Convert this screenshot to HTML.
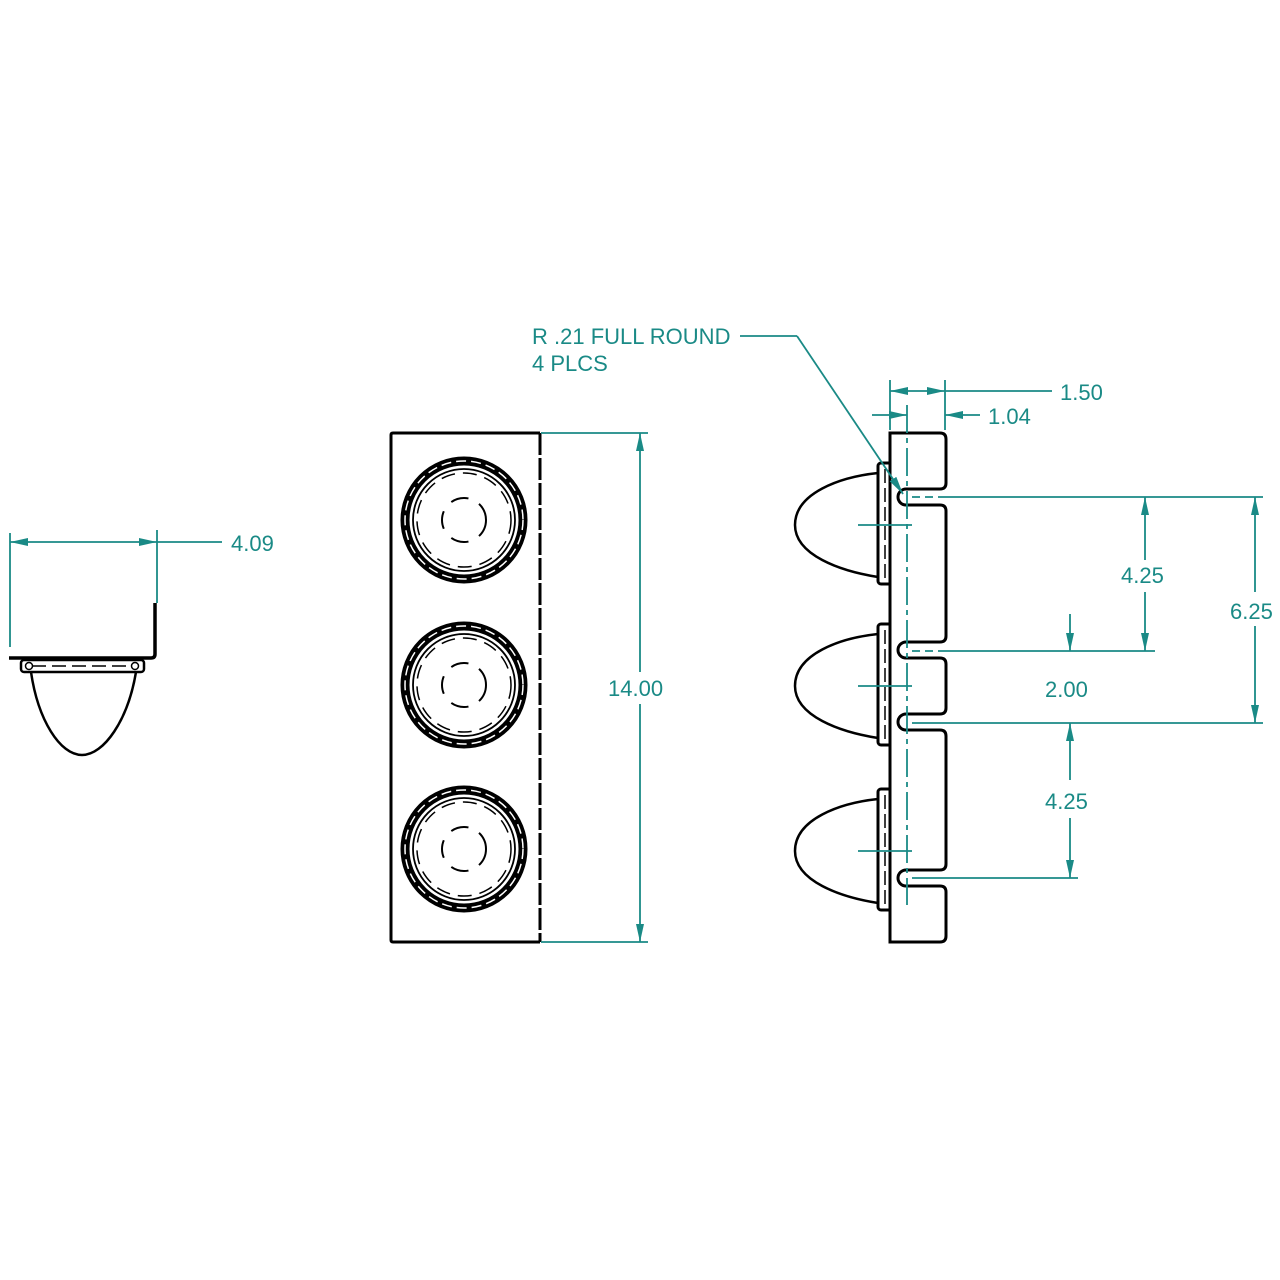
<!DOCTYPE html>
<html><head><meta charset="utf-8"><style>
html,body{margin:0;padding:0;background:#fff;}
svg{display:block;}
text{font-family:"Liberation Sans",sans-serif;fill:#1a8a86;font-size:22px;}
</style></head><body>
<svg width="1280" height="1280" viewBox="0 0 1280 1280" xmlns="http://www.w3.org/2000/svg">
<defs>
<marker id="a" viewBox="0 0 18 8" refX="18" refY="4" markerWidth="18" markerHeight="8" markerUnits="userSpaceOnUse" orient="auto-start-reverse"><path d="M0,0 L18,4 L0,8 z" fill="#1a8a86"/></marker>
<g id="lens">
<circle r="59" fill="none" stroke="#000" stroke-width="9"/>
<circle r="59" fill="none" stroke="#fff" stroke-width="1.5" stroke-dasharray="10 5"/>
<circle r="51" fill="none" stroke="#000" stroke-width="1.8"/>
<circle r="47" fill="none" stroke="#000" stroke-width="1.5" stroke-dasharray="14 8"/>
<circle r="22" fill="none" stroke="#000" stroke-width="2" stroke-dasharray="18 12"/>
</g>
<g id="side">
<path d="M0,-62 H-9 a3,3 0 0 0 -3,3 V56 a3,3 0 0 0 3,3 H0" fill="none" stroke="#000" stroke-width="3"/>
<line x1="-5" y1="-56" x2="-5" y2="56" stroke="#000" stroke-width="1.5" stroke-dasharray="14 5"/>
<path d="M-12,-52 C-50,-48 -95,-32 -95,0 C-95,30 -50,46 -12,52" fill="none" stroke="#000" stroke-width="2.5"/>
<line x1="-32" y1="0" x2="22" y2="0" stroke="#1a8a86" stroke-width="1.8"/>
</g>
</defs>

<!-- Left view -->
<g stroke="#1a8a86" stroke-width="1.8" fill="none">
<line x1="10" y1="533" x2="10" y2="647"/>
<line x1="157" y1="530" x2="157" y2="603"/>
<line x1="10" y1="542" x2="157" y2="542" marker-start="url(#a)" marker-end="url(#a)"/>
<line x1="157" y1="542" x2="222" y2="542"/>
</g>
<text x="231" y="551">4.09</text>
<path d="M155,603 V654 q0,4 -4,4 H9" fill="none" stroke="#000" stroke-width="3.5"/>
<rect x="21" y="660" width="123" height="12" rx="3" fill="none" stroke="#000" stroke-width="2.5"/>
<line x1="32" y1="666" x2="132" y2="666" stroke="#000" stroke-width="1.5" stroke-dasharray="14 6"/>
<circle cx="29" cy="666" r="3.5" fill="none" stroke="#000" stroke-width="1.5"/>
<circle cx="135" cy="666" r="3.5" fill="none" stroke="#000" stroke-width="1.5"/>
<path d="M31,672 C38,720 60,755 82,755 C104,755 128,720 136,672" fill="none" stroke="#000" stroke-width="2.5"/>

<!-- Front view -->
<path d="M540,433 H393 q-2,0 -2,2 V940 q0,2 2,2 H540" fill="none" stroke="#000" stroke-width="3"/>
<line x1="540" y1="433" x2="540" y2="942" stroke="#000" stroke-width="3" stroke-dasharray="22 3"/>
<use href="#lens" x="464" y="520"/>
<use href="#lens" x="464" y="685"/>
<use href="#lens" x="464" y="849"/>
<g stroke="#1a8a86" stroke-width="1.8" fill="none">
<line x1="541" y1="433" x2="648" y2="433"/>
<line x1="541" y1="942" x2="648" y2="942"/>
<line x1="640" y1="433" x2="640" y2="672" marker-start="url(#a)"/>
<line x1="640" y1="704" x2="640" y2="942" marker-end="url(#a)"/>
</g>
<text x="608" y="696">14.00</text>

<!-- Side view -->
<path d="M890,433 H940 q6,0 6,6 V483 q0,6 -6,6 H906 a8,8 0 0 0 0,16 H940 q6,0 6,6 V636 q0,6 -6,6 H906 a8,8 0 0 0 0,16 H940 q6,0 6,6 V708 q0,6 -6,6 H906 a8,8 0 0 0 0,16 H940 q6,0 6,6 V864 q0,6 -6,6 H906 a8,8 0 0 0 0,16 H940 q6,0 6,6 V936 q0,6 -6,6 H890 Z" fill="none" stroke="#000" stroke-width="3"/>
<use href="#side" x="890" y="525"/>
<use href="#side" x="890" y="686"/>
<use href="#side" x="890" y="851"/>
<g stroke="#1a8a86" stroke-width="1.8" fill="none">
<line x1="907" y1="405" x2="907" y2="905" stroke-dasharray="28 5 5 5"/>
<line x1="890" y1="380" x2="890" y2="430"/>
<line x1="945" y1="380" x2="945" y2="430"/>
<line x1="890" y1="391" x2="945" y2="391" marker-start="url(#a)" marker-end="url(#a)"/>
<line x1="945" y1="391" x2="1052" y2="391"/>
<line x1="872" y1="415" x2="907" y2="415" marker-end="url(#a)"/>
<line x1="980" y1="415" x2="945" y2="415" marker-end="url(#a)"/>
<line x1="740" y1="336" x2="797" y2="336"/>
<line x1="797" y1="336" x2="903" y2="494" marker-end="url(#a)"/>
<line x1="912" y1="497" x2="945" y2="497" stroke-dasharray="8 5" />
<line x1="945" y1="497" x2="1263" y2="497"/>
<line x1="912" y1="651" x2="945" y2="651" stroke-dasharray="8 5"/>
<line x1="945" y1="651" x2="1155" y2="651"/>
<line x1="912" y1="723" x2="1263" y2="723"/>
<line x1="912" y1="878" x2="1078" y2="878"/>
<line x1="1255" y1="497" x2="1255" y2="592" marker-start="url(#a)"/>
<line x1="1255" y1="626" x2="1255" y2="723" marker-end="url(#a)"/>
<line x1="1145" y1="497" x2="1145" y2="560" marker-start="url(#a)"/>
<line x1="1145" y1="592" x2="1145" y2="651" marker-end="url(#a)"/>
<line x1="1070" y1="614" x2="1070" y2="651" marker-end="url(#a)"/>
<line x1="1070" y1="780" x2="1070" y2="723" marker-end="url(#a)"/>
<line x1="1070" y1="818" x2="1070" y2="878" marker-end="url(#a)"/>
</g>
<text x="532" y="344">R .21 FULL ROUND</text>
<text x="532" y="371">4 PLCS</text>
<text x="1060" y="400">1.50</text>
<text x="988" y="424">1.04</text>
<text x="1121" y="583">4.25</text>
<text x="1230" y="619">6.25</text>
<text x="1045" y="697">2.00</text>
<text x="1045" y="809">4.25</text>
</svg>
</body></html>
